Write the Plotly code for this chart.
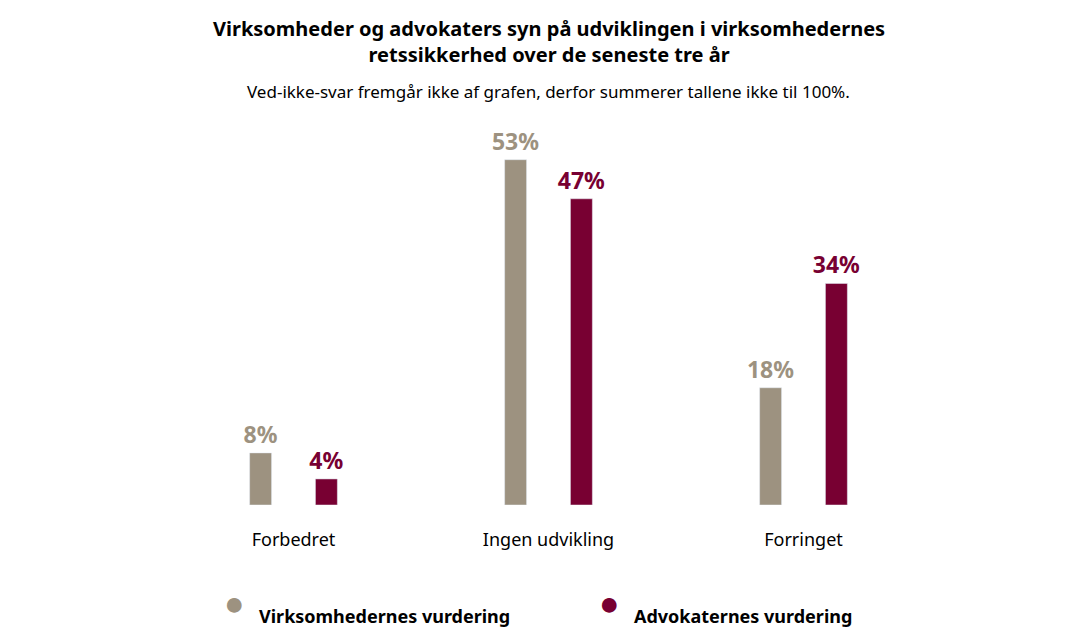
import plotly.graph_objects as go

categories = ["Forbedret", "Ingen udvikling", "Forringet"]
virksomheder = [8, 53, 18]
advokater = [4, 47, 34]
series_names = ["Virksomhedernes vurdering", "Advokaternes vurdering"]

grey = "#9d9280"
red = "#780032"

fig = go.Figure()
for vals, name, col, off in [(virksomheder, series_names[0], grey, -0.172),
                             (advokater, series_names[1], red, 0.086)]:
    fig.add_trace(go.Bar(
        x=categories, y=vals, name=name, marker_color=col,
        width=0.086, offset=off, showlegend=False,
        text=[f"{v}%" for v in vals], textposition="outside", cliponaxis=False,
        constraintext="none",
        textfont=dict(size=23, color=col, family="Noto Sans", weight="bold"),
    ))

fig.update_layout(
    width=1079, height=641,
    paper_bgcolor="white", plot_bgcolor="white",
    font=dict(family="Noto Sans", color="black"),
    margin=dict(l=158, r=156, t=110, b=144),
    showlegend=False,
    xaxis=dict(showline=False, ticks="", tickfont=dict(size=18), ticklabelstandoff=22),
    yaxis=dict(visible=False, range=[0, 59.4]),
)

# titles
fig.add_annotation(text="<b>Virksomheder og advokaters syn på udviklingen i virksomhedernes<br>retssikkerhed over de seneste tre år</b>",
                   xref="paper", yref="paper", x=0.5, y=1, yshift=105, yanchor="top",
                   showarrow=False, font=dict(size=20))
fig.add_annotation(text="Ved-ikke-svar fremgår ikke af grafen, derfor summerer tallene ikke til 100%.",
                   xref="paper", yref="paper", x=0.5, y=1, yshift=40, yanchor="top",
                   showarrow=False, font=dict(size=17))

# legend
for name, col, lx in zip(series_names, [grey, red], [0.09, 0.58]):
    fig.add_annotation(text="●", xref="paper", yref="paper", x=lx, y=0, yshift=-122,
                       showarrow=False, font=dict(size=34, color=col), xanchor="center")
    fig.add_annotation(text=f"<b>{name}</b>", xref="paper", yref="paper", x=lx, xshift=22,
                       y=0, yshift=-125, showarrow=False, font=dict(size=18), xanchor="left")

fig.write_html("out.html")
